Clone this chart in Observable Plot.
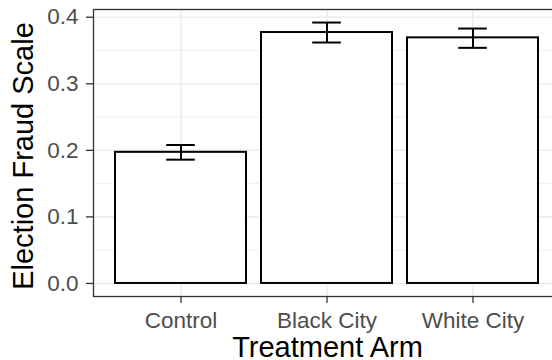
<!DOCTYPE html>
<html><head><meta charset="utf-8">
<script src="https://cdn.jsdelivr.net/npm/d3@7"></script>
<script src="https://cdn.jsdelivr.net/npm/@observablehq/plot@0.6"></script>
<style>
html,body{margin:0;padding:0;background:#fff;}
#chart{width:552px;height:360px;overflow:hidden;}
#chart svg [aria-label^="x-axis"] line, #chart svg [aria-label^="x-axis"] path,
#chart svg [aria-label^="y-axis"] line, #chart svg [aria-label^="y-axis"] path {stroke:#333;stroke-width:1.3px;}
</style></head><body><div id="chart"></div>
<script>
const arms = ["Control", "Black City", "White City"];
const means = [0.197, 0.377, 0.369];
const lows = [0.186, 0.362, 0.354];
const highs = [0.208, 0.392, 0.383];
const yMajor = [0, 0.1, 0.2, 0.3, 0.4];
const yMinor = [0.05, 0.15, 0.25, 0.35];
const xTitle = "Treatment Arm";
const yTitle = "Election Fraud Scale";

const data = arms.map((a, i) => ({arm: a, mean: means[i], low: lows[i], high: highs[i]}));
const yMax = d3.max(highs), yExpand = 0.05 * yMax;
const W = 552, H = 360, mL = 93, mR = -9, mT = 9, mB = 64;
const step = (W - mL - mR) / 3.2;
const capInset = 0.35 * step;

const chart = Plot.plot({
  width: W, height: H, marginLeft: mL, marginRight: mR, marginTop: mT, marginBottom: mB,
  style: {fontFamily: "'Liberation Sans', Arial, sans-serif", fontSize: "22.5px", color: "#4d4d4d", background: "white"},
  x: {type: "band", domain: arms, paddingInner: 0.1, paddingOuter: 0.15, label: null, tickSize: 7, tickPadding: 9},
  y: {domain: [-yExpand, yMax + yExpand], label: null, ticks: yMajor, tickFormat: d3.format(".1f"), tickSize: 7, tickPadding: 8},
  marks: [
    Plot.ruleY(yMinor, {stroke: "#ebebeb", strokeWidth: 0.8}),
    Plot.ruleY(yMajor, {stroke: "#ebebeb", strokeWidth: 1.5}),
    Plot.ruleX(arms, {stroke: "#ebebeb", strokeWidth: 1.5}),
    Plot.barY(data, {x: "arm", y: "mean", fill: "white", stroke: "black", strokeWidth: 2}),
    Plot.ruleX(data, {x: "arm", y1: "low", y2: "high", stroke: "black", strokeWidth: 2}),
    Plot.tickY(data, {x: "arm", y: "low", stroke: "black", strokeWidth: 2, insetLeft: capInset, insetRight: capInset}),
    Plot.tickY(data, {x: "arm", y: "high", stroke: "black", strokeWidth: 2, insetLeft: capInset, insetRight: capInset}),
    Plot.frame({stroke: "#333", strokeWidth: 1.3}),
    Plot.text([xTitle], {text: d => d, frameAnchor: "bottom", textAnchor: "middle", lineAnchor: "middle", dy: 51.5, fontSize: 29, fill: "black"}),
    Plot.text([yTitle], {text: d => d, frameAnchor: "left", textAnchor: "middle", lineAnchor: "middle", rotate: -90, dx: -69.5, dy: 3, fontSize: 29, fill: "black"})
  ]
});
document.getElementById("chart").append(chart);
</script></body></html>
